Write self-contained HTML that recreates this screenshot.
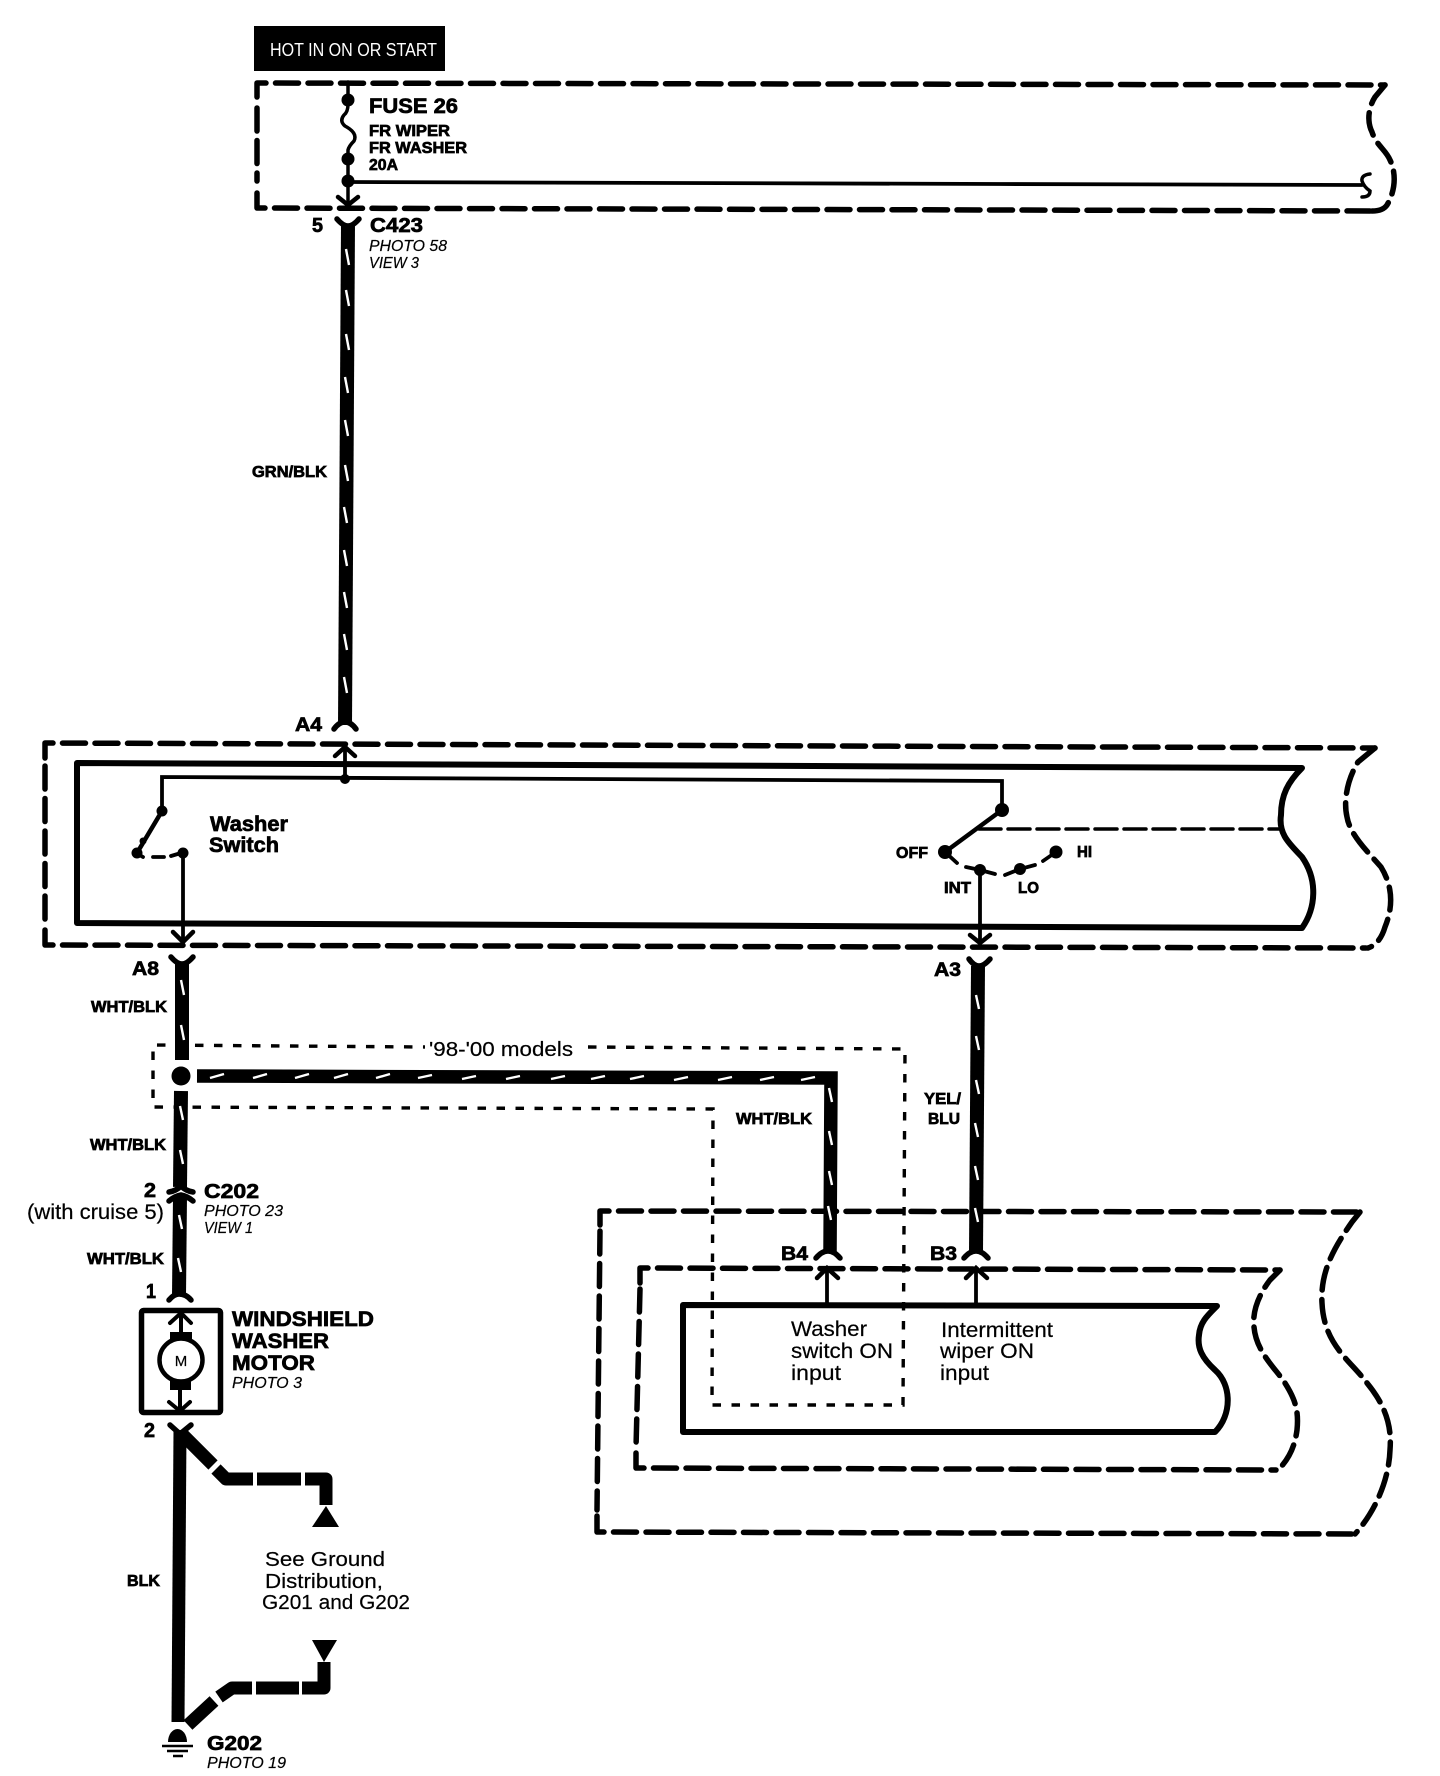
<!DOCTYPE html>
<html>
<head>
<meta charset="utf-8">
<style>
html,body{margin:0;padding:0;background:#fff;width:1440px;height:1776px;overflow:hidden}
svg{display:block}
text{font-family:"Liberation Sans",sans-serif;fill:#000;stroke:#000;stroke-width:.2}
.b{font-weight:bold;stroke:#000;stroke-width:.7}
.i{font-style:italic}
</style>
</head>
<body>
<svg width="1440" height="1776" viewBox="0 0 1440 1776" xmlns="http://www.w3.org/2000/svg">
<rect width="1440" height="1776" fill="#fff"/>

<!-- hot box -->
<rect x="254" y="26" width="191" height="45" fill="#000"/>
<text x="270" y="56" font-size="18" textLength="167" lengthAdjust="spacingAndGlyphs" style="fill:#fff;stroke:none">HOT IN ON OR START</text>

<!-- dashed outlines -->
<g fill="none" stroke="#000" stroke-width="5.5" stroke-linecap="round" stroke-linejoin="round" stroke-dasharray="23 9.5">
  <!-- fuse box -->
  <path d="M257 97 L257 83 L1385 85"/>
  <path d="M257 193 L257 208 L1372 211"/>
  <path d="M257 108 L257 181"/>
  <path d="M1385 85 L1375 97 C1368 108 1367 122 1372 132 C1376 145 1386 150 1390 160 C1396 172 1396 190 1387 205 Q1383 211 1372 211"/>
  <!-- switch box -->
  <path d="M45 758 L45 743 L1375 748"/>
  <path d="M45 930 L45 945 L1366 948"/>
  <path d="M45 766 L45 922"/>
  <path d="M1375 748 L1358 762 C1348 778 1343 800 1347 817 C1350 835 1368 852 1381 867 C1392 885 1394 905 1385 927 Q1380 944 1368 948"/>
  <!-- outer ECU -->
  <path d="M600 1225 L600 1211 L1360 1212"/>
  <path d="M597 1516 L597 1532 L1355 1534"/>
  <path d="M600 1231 L597 1510"/>
  <path d="M1360 1212 L1352 1222 C1336 1245 1320 1270 1322 1303 C1324 1345 1350 1360 1367 1383 C1385 1405 1392 1425 1390 1450 C1389 1480 1375 1512 1355 1534"/>
  <!-- middle -->
  <path d="M640 1283 L640 1268 L1280 1270"/>
  <path d="M636 1453 L636 1468 L1276 1470"/>
  <path d="M640 1289 L636 1448"/>
  <path d="M1280 1270 L1270 1280 C1260 1293 1252 1310 1254 1327 C1256 1350 1272 1365 1283 1380 C1295 1398 1299 1410 1297 1430 C1295 1445 1290 1458 1278 1470"/>
</g>

<!-- fuse internals -->
<g fill="none" stroke="#000" stroke-width="3.5" stroke-linecap="round">
  <path d="M348 82 L348 104 Q348 112 344 115 Q339 121 345 126 Q358 133 354 141 Q349 146 348 150 L348 205"/>
  <path d="M348 182 L1000 184 L1362 185" stroke-width="3.8"/>
  <path d="M1370 174 Q1361 175 1362 181 Q1364 187 1370 191 Q1370 197 1362 197"/>
  <path d="M338 197 L348 205 L358 197" stroke-width="4.5"/>
</g>
<circle cx="348" cy="100" r="6.5"/><circle cx="348" cy="159" r="6.5"/><circle cx="348" cy="181" r="6.5"/>

<!-- inner rect switch -->
<path d="M1302 768 L77 763 L77 923 L1302 928 C1316 908 1318 880 1302 857 C1291 845 1278 835 1281 815 C1281 795 1288 782 1302 768 Z" fill="none" stroke="#000" stroke-width="6" stroke-linejoin="round"/>

<!-- ECU inner -->
<path d="M1217 1306 L683 1305 L683 1432 L1215 1432 C1232 1415 1232 1385 1215 1370 C1202 1358 1197 1348 1199 1335 C1200 1322 1208 1315 1217 1306 Z" fill="none" stroke="#000" stroke-width="6" stroke-linejoin="round"/>

<!-- dotted box -->
<g fill="none" stroke="#000" stroke-width="3.4" stroke-dasharray="8.500 10.500">
  <path d="M588 1047 L905 1049 L903 1405 L712 1405 L713 1109 L153 1107 L153 1045 L425 1047"/>
</g>

<!-- wires -->
<g fill="none" stroke="#000" stroke-width="14">
  <path d="M348 224 L345 725"/>
  <path d="M182 962 L182 1060"/>
  <path d="M181 1091 L180 1187"/>
  <path d="M180 1196 L179 1296"/>
  <path d="M978 966 L976 1253"/>
  <path d="M197 1076 L831 1078 L830 1253" stroke-width="13.500" stroke-linejoin="miter"/>
  <path d="M180 1430 L178 1722" stroke-width="13"/>
  <path d="M183 1435 L213 1465 M216 1469 L226 1479 L253 1479 M257 1479 L301 1479 M305 1479 L326 1479 L326 1505" stroke-width="13" stroke-linejoin="round"/>
  <path d="M324 1662 L324 1688 L302 1688 M299 1688 L256 1688 M252 1688 L232 1688 L219 1697 M214 1701 L188 1725" stroke-width="13" stroke-linejoin="round"/>
</g>
<!-- wire ticks -->
<path d="M346 249 L349 265 M346 290 L349 306 M346 334 L349 350 M345 377 L348 393 M345 420 L348 436 M345 465 L348 481 M344 507 L347 523 M344 550 L347 566 M344 592 L347 608 M344 634 L347 650 M344 677 L347 693
M181 980 L184 995 M181 1025 L184 1040 M180 1106 L183 1120 M180 1150 L183 1164 M179 1215 L182 1229 M178 1258 L181 1272
M976 995 L979 1009 M976 1036 L979 1050 M976 1080 L979 1094 M975 1123 L978 1137 M975 1166 L978 1180 M975 1208 L978 1222
M829 1088 L832 1102 M829 1131 L832 1145 M829 1171 L832 1185 M828 1206 L831 1220
M210 1078 L224 1074 M253 1078 L267 1074 M295 1078 L309 1074 M334 1078 L348 1074 M376 1078 L390 1074 M418 1078 L432 1075 M462 1079 L476 1076 M506 1079 L520 1076 M551 1079 L565 1076 M591 1079 L605 1076 M630 1079 L644 1076 M674 1080 L688 1077 M718 1080 L732 1077 M760 1080 L774 1077 M801 1080 L815 1077" fill="none" stroke="#fff" stroke-width="2.4"/>

<!-- Y connectors -->
<g fill="none" stroke="#000" stroke-width="5.5" stroke-linecap="round">
  <path d="M337 219 Q343 226 348 226 Q353 226 359 219"/>
  <path d="M334 729 Q339 722 345 722 Q351 722 356 729"/>
  <path d="M171 957 Q177 964 182 964 Q187 964 193 957"/>
  <path d="M969 959 Q974 966 979 966 Q984 966 990 959"/>
  <path d="M816 1258 Q822 1251 828 1251 Q834 1251 840 1258"/>
  <path d="M964 1258 Q970 1251 976 1251 Q982 1251 988 1258"/>
  <path d="M169 1192 Q176 1191 181 1186 Q186 1191 193 1192"/>
  <path d="M169 1201 Q175 1196 181 1195 Q187 1196 193 1201"/>
  <path d="M169 1300 Q174 1294 179 1294 Q186 1294 191 1300"/>
  <path d="M170 1425 L180 1434 L191 1425"/>
</g>

<!-- switch internals -->
<g fill="none" stroke="#000" stroke-width="3.8" stroke-linecap="round">
  <path d="M162 811 L162 777 L1002 781 L1002 810"/>
  <path d="M345 779 L345 748"/>
  <path d="M335 756 L345 747 L355 756" stroke-width="4.5"/>
  <path d="M162 811 L137 853" stroke-width="4.5"/>
  <path d="M136 853 L143 857 M153 857 L164 857 M171 856 L181 853"/>
  <path d="M183 853 L183 941"/>
  <path d="M173 932 L183 942 L193 932" stroke-width="4.5"/>
  <path d="M1002 810 L945 852" stroke-width="4.5"/>
  <path d="M945 852 L957 863 M966 867 L980 870 L995 874 M1005 875 L1020 869 L1035 865 M1043 861 L1056 852"/>
  <path d="M980 870 L980 942"/>
  <path d="M970 935 L980 943 L990 935" stroke-width="4.5"/>
  <path d="M979 829 L1282 829" stroke-width="3.5" stroke-dasharray="22 7"/>
  <path d="M827 1305 L827 1268"/>
  <path d="M817 1278 L827 1268 L838 1278" stroke-width="4.5"/>
  <path d="M976 1305 L976 1268"/>
  <path d="M966 1278 L976 1268 L987 1278" stroke-width="4.5"/>
</g>
<circle cx="345" cy="779" r="5"/>
<circle cx="162" cy="811" r="5.5"/><circle cx="137" cy="853" r="5.5"/><circle cx="143" cy="841" r="3.5"/><circle cx="183" cy="853" r="5.5"/>
<circle cx="1002" cy="810" r="7"/><circle cx="945" cy="852" r="7"/><circle cx="980" cy="870" r="6"/><circle cx="1020" cy="869" r="6"/><circle cx="1056" cy="852" r="6.5"/>

<!-- junction dot -->
<circle cx="181" cy="1076" r="9.500"/>

<!-- motor -->
<rect x="141.500" y="1310.500" width="79" height="102" rx="2" fill="none" stroke="#000" stroke-width="5.500"/>
<g fill="none" stroke="#000" stroke-width="4" stroke-linecap="round">
  <path d="M181 1314 L181 1334"/>
  <path d="M170 1323 L181 1313 L191 1323"/>
  <path d="M180 1388 L180 1410"/>
  <path d="M169 1402 L180 1411 L190 1402"/>
</g>
<rect x="170" y="1332" width="22" height="11"/>
<rect x="170" y="1380" width="21" height="10"/>
<circle cx="181" cy="1360" r="21.500" fill="#fff" stroke="#000" stroke-width="4.500"/>
<text x="181" y="1366" font-size="15" text-anchor="middle">M</text>

<!-- triangles -->
<path d="M326 1506 L339 1527 L312 1527 Z"/>
<path d="M312 1640 L337 1640 L324 1662 Z"/>

<!-- ground -->
<path d="M168 1742 A9.500 13 0 0 1 187 1742 Z"/>
<path d="M162 1746 L193 1746 M167 1751 L188 1751 M173 1756 L183 1756" stroke="#000" stroke-width="2.500"/>

<!-- labels -->
<g>
<text class="b" x="369" y="113" font-size="21" textLength="89" lengthAdjust="spacingAndGlyphs">FUSE 26</text>
<text class="b" x="369" y="136" font-size="16" textLength="81" lengthAdjust="spacingAndGlyphs">FR WIPER</text>
<text class="b" x="369" y="153" font-size="16" textLength="98" lengthAdjust="spacingAndGlyphs">FR WASHER</text>
<text class="b" x="369" y="170" font-size="16" textLength="29" lengthAdjust="spacingAndGlyphs">20A</text>
<text class="b" x="312" y="232" font-size="20" textLength="11" lengthAdjust="spacingAndGlyphs">5</text>
<text class="b" x="370" y="232" font-size="20" textLength="53" lengthAdjust="spacingAndGlyphs">C423</text>
<text class="i" x="369" y="251" font-size="16" textLength="78" lengthAdjust="spacingAndGlyphs">PHOTO 58</text>
<text class="i" x="369" y="268" font-size="16" textLength="50" lengthAdjust="spacingAndGlyphs">VIEW 3</text>
<text class="b" x="252" y="477" font-size="15.500" textLength="75" lengthAdjust="spacingAndGlyphs">GRN/BLK</text>
<text class="b" x="295" y="731" font-size="19" textLength="27" lengthAdjust="spacingAndGlyphs">A4</text>
<text class="b" x="210" y="831" font-size="21" textLength="78" lengthAdjust="spacingAndGlyphs">Washer</text>
<text class="b" x="209" y="852" font-size="21" textLength="70" lengthAdjust="spacingAndGlyphs">Switch</text>
<text class="b" x="896" y="858" font-size="15.500" textLength="32" lengthAdjust="spacingAndGlyphs">OFF</text>
<text class="b" x="1077" y="857" font-size="15.500" textLength="15" lengthAdjust="spacingAndGlyphs">HI</text>
<text class="b" x="944" y="893" font-size="15.500" textLength="27" lengthAdjust="spacingAndGlyphs">INT</text>
<text class="b" x="1018" y="893" font-size="15.500" textLength="21" lengthAdjust="spacingAndGlyphs">LO</text>
<text class="b" x="132" y="975" font-size="19" textLength="27" lengthAdjust="spacingAndGlyphs">A8</text>
<text class="b" x="934" y="976" font-size="19" textLength="27" lengthAdjust="spacingAndGlyphs">A3</text>
<text class="b" x="91" y="1012" font-size="15.500" textLength="76" lengthAdjust="spacingAndGlyphs">WHT/BLK</text>
<text class="b" x="90" y="1150" font-size="15.500" textLength="76" lengthAdjust="spacingAndGlyphs">WHT/BLK</text>
<text class="b" x="87" y="1264" font-size="15.500" textLength="77" lengthAdjust="spacingAndGlyphs">WHT/BLK</text>
<text class="b" x="736" y="1124" font-size="15.500" textLength="76" lengthAdjust="spacingAndGlyphs">WHT/BLK</text>
<text class="b" x="924" y="1104" font-size="15.500" textLength="37" lengthAdjust="spacingAndGlyphs">YEL/</text>
<text class="b" x="928" y="1124" font-size="15.500" textLength="32" lengthAdjust="spacingAndGlyphs">BLU</text>
<text x="429" y="1056" font-size="20.500" textLength="144" lengthAdjust="spacingAndGlyphs">'98-'00 models</text>
<text class="b" x="144" y="1197" font-size="20" textLength="12" lengthAdjust="spacingAndGlyphs">2</text>
<text x="27" y="1219" font-size="21" textLength="137" lengthAdjust="spacingAndGlyphs">(with cruise 5)</text>
<text class="b" x="204" y="1198" font-size="20" textLength="55" lengthAdjust="spacingAndGlyphs">C202</text>
<text class="i" x="204" y="1216" font-size="16" textLength="79" lengthAdjust="spacingAndGlyphs">PHOTO 23</text>
<text class="i" x="204" y="1233" font-size="16" textLength="49" lengthAdjust="spacingAndGlyphs">VIEW 1</text>
<text class="b" x="146" y="1298" font-size="20" textLength="10" lengthAdjust="spacingAndGlyphs">1</text>
<text class="b" x="232" y="1326" font-size="21.500" textLength="142" lengthAdjust="spacingAndGlyphs">WINDSHIELD</text>
<text class="b" x="232" y="1348" font-size="21.500" textLength="97" lengthAdjust="spacingAndGlyphs">WASHER</text>
<text class="b" x="232" y="1370" font-size="21.500" textLength="83" lengthAdjust="spacingAndGlyphs">MOTOR</text>
<text class="i" x="232" y="1388" font-size="16" textLength="70" lengthAdjust="spacingAndGlyphs">PHOTO 3</text>
<text class="b" x="144" y="1437" font-size="20" textLength="11" lengthAdjust="spacingAndGlyphs">2</text>
<text class="b" x="127" y="1586" font-size="15.500" textLength="33" lengthAdjust="spacingAndGlyphs">BLK</text>
<text x="265" y="1566" font-size="20.500" textLength="120" lengthAdjust="spacingAndGlyphs">See Ground</text>
<text x="265" y="1588" font-size="20.500" textLength="118" lengthAdjust="spacingAndGlyphs">Distribution,</text>
<text x="262" y="1609" font-size="20.500" textLength="148" lengthAdjust="spacingAndGlyphs">G201 and G202</text>
<text class="b" x="207" y="1750" font-size="20" textLength="55" lengthAdjust="spacingAndGlyphs">G202</text>
<text class="i" x="207" y="1768" font-size="16" textLength="79" lengthAdjust="spacingAndGlyphs">PHOTO 19</text>
<text class="b" x="781" y="1260" font-size="19" textLength="27" lengthAdjust="spacingAndGlyphs">B4</text>
<text class="b" x="930" y="1260" font-size="19" textLength="27" lengthAdjust="spacingAndGlyphs">B3</text>
<text x="791" y="1336" font-size="21" textLength="76" lengthAdjust="spacingAndGlyphs">Washer</text>
<text x="791" y="1358" font-size="21" textLength="102" lengthAdjust="spacingAndGlyphs">switch ON</text>
<text x="791" y="1380" font-size="21" textLength="50" lengthAdjust="spacingAndGlyphs">input</text>
<text x="941" y="1337" font-size="21" textLength="112" lengthAdjust="spacingAndGlyphs">Intermittent</text>
<text x="940" y="1358" font-size="21" textLength="94" lengthAdjust="spacingAndGlyphs">wiper ON</text>
<text x="940" y="1380" font-size="21" textLength="49" lengthAdjust="spacingAndGlyphs">input</text>
</g>
</svg>
</body>
</html>
